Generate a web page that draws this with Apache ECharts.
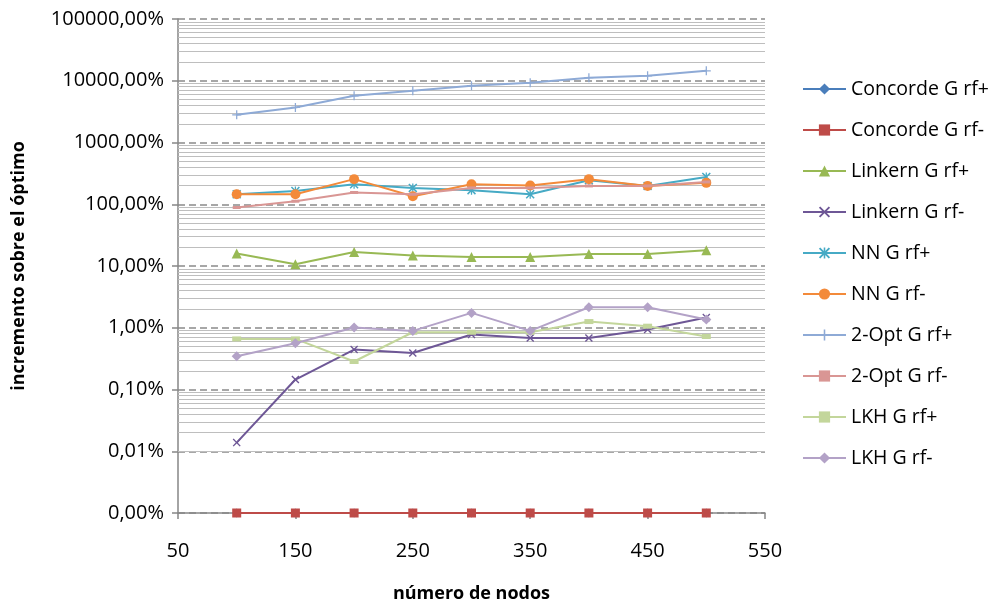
<!DOCTYPE html>
<html>
<head>
<meta charset="utf-8">
<script src="https://cdn.jsdelivr.net/npm/echarts@6/dist/echarts.min.js"></script>
<style>
html,body{margin:0;padding:0;background:#fff;}
#chart{width:990px;height:606px;}
</style>
</head>
<body>
<div id="chart"></div>
<script>
// ---- data (values in percent) ----
const nodes = [100, 150, 200, 250, 300, 350, 400, 450, 500];
const seriesNames = ['Concorde G rf+', 'Concorde G rf-', 'Linkern G rf+', 'Linkern G rf-', 'NN G rf+', 'NN G rf-', '2-Opt G rf+', '2-Opt G rf-', 'LKH G rf+', 'LKH G rf-'];
const concordeRfPlus  = [0, 0, 0, 0, 0, 0, 0, 0, 0];
const concordeRfMinus = [0, 0, 0, 0, 0, 0, 0, 0, 0];
const linkernRfPlus   = [15.9, 10.7, 16.9, 14.8, 14.0, 14.0, 15.7, 15.7, 18.0];
const linkernRfMinus  = [0.0138, 0.145, 0.444, 0.391, 0.776, 0.684, 0.684, 0.935, 1.46];
const nnRfPlus        = [145, 164, 211, 184, 169, 145, 245, 198, 277];
const nnRfMinus       = [145, 145, 255, 135, 211, 201, 255, 198, 222];
const twoOptRfPlus    = [2810, 3700, 5700, 6900, 8300, 9300, 11200, 12000, 14500];
const twoOptRfMinus   = [88.5, 112, 155, 145, 184, 184, 198, 198, 230];
const lkhRfPlus       = [0.659, 0.659, 0.284, 0.845, 0.845, 0.845, 1.26, 1.06, 0.721];
const lkhRfMinus      = [0.346, 0.561, 1.01, 0.889, 1.74, 0.889, 2.15, 2.15, 1.36];
const xTicks = [50, 150, 250, 350, 450, 550];
const yMin = 0.001, yMax = 100000;

// ---- styling ----
const FONT = '"Open Sans", sans-serif';
const X_PATH = 'path://M0,1.2 L1.2,0 L5,3.8 L8.8,0 L10,1.2 L6.2,5 L10,8.8 L8.8,10 L5,6.2 L1.2,10 L0,8.8 L3.8,5 Z';
const PLUS_PATH = 'path://M4.3,0 H5.7 V4.3 H10 V5.7 H5.7 V10 H4.3 V5.7 H0 V4.3 H4.3 Z';
const STAR_PATH = 'path://M0,1.2 L1.2,0 L5,3.8 L8.8,0 L10,1.2 L6.2,5 L10,8.8 L8.8,10 L5,6.2 L1.2,10 L0,8.8 L3.8,5 Z M4.3,0 H5.7 V10 H4.3 Z';

const styles = [
  {color: '#4A7EBB', symbol: 'diamond', size: 9},
  {color: '#BE4B48', symbol: 'rect', size: 9},
  {color: '#98B954', symbol: 'triangle', size: 10},
  {color: '#6E5796', symbol: X_PATH, size: 8},
  {color: '#46AAC5', symbol: STAR_PATH, size: 9},
  {color: '#F38A3A', symbol: 'circle', size: 10},
  {color: '#8EAAD6', symbol: PLUS_PATH, size: 9},
  {color: '#D99694', symbol: 'rect', size: [8, 3]},
  {color: '#C3D69B', symbol: 'rect', size: [9, 5]},
  {color: '#B3A2C7', symbol: 'diamond', size: 10}
];
const seriesValues = [concordeRfPlus, concordeRfMinus, linkernRfPlus, linkernRfMinus, nnRfPlus, nnRfMinus, twoOptRfPlus, twoOptRfMinus, lkhRfPlus, lkhRfMinus];

// minor gridlines at 2..9 x 10^k
const minorGrid = [];
for (let k = -3; k <= 4; k++) {
  for (let m = 2; m <= 9; m++) minorGrid.push(+(m * Math.pow(10, k)).toPrecision(3));
}

const fmtPct = v => v.toFixed(2).replace('.', ',') + '%';

const series = seriesValues.map((vals, i) => {
  const s = {
    name: seriesNames[i],
    type: 'line',
    data: vals.map((v, j) => [nodes[j], v <= 0 ? yMin : v]),
    symbol: styles[i].symbol,
    symbolSize: styles[i].size,
    showSymbol: true,
    lineStyle: {color: styles[i].color, width: 2},
    itemStyle: {color: styles[i].color},
    emphasis: {disabled: true},
    clip: false,
    z: 3 + i
  };
  if (i === 0) {
    s.markLine = {
      silent: true,
      symbol: 'none',
      label: {show: false},
      lineStyle: {color: '#BEBEBE', type: 'solid', width: 1.2},
      z: 1,
      data: minorGrid.map(v => ({yAxis: v}))
    };
  }
  return s;
});

const chart = echarts.init(document.getElementById('chart'), null, {renderer: 'canvas'});
chart.setOption({
  animation: false,
  backgroundColor: '#ffffff',
  textStyle: {fontFamily: FONT},
  grid: {left: 178, right: 225, top: 19, bottom: 93, containLabel: false, outerBoundsMode: 'none'},
  legend: {
    orient: 'vertical',
    left: 797,
    top: 74,
    itemWidth: 43,
    itemHeight: 14,
    itemGap: 21,
    data: seriesNames,
    textStyle: {fontFamily: FONT, fontSize: 19.5, color: '#000', lineHeight: 20}
  },
  xAxis: {
    type: 'value',
    min: 50,
    max: 550,
    interval: 100,
    name: 'número de nodos',
    nameLocation: 'middle',
    nameGap: 72,
    nameTextStyle: {fontFamily: FONT, fontSize: 18, fontWeight: 'bold', color: '#000'},
    axisLine: {show: true, onZero: false, lineStyle: {color: '#868686', width: 1.5}},
    axisTick: {show: true, inside: false, length: 6, lineStyle: {color: '#868686', width: 1.5}},
    axisLabel: {fontFamily: FONT, fontSize: 20, color: '#000', margin: 28,
      formatter: v => (xTicks.indexOf(v) >= 0 ? String(v) : '')},
    splitLine: {show: false}
  },
  yAxis: {
    type: 'log',
    logBase: 10,
    min: yMin,
    max: yMax,
    splitNumber: 8,
    name: 'incremento sobre el óptimo',
    nameLocation: 'middle',
    nameGap: 150,
    nameRotate: 90,
    nameTextStyle: {fontFamily: FONT, fontSize: 18, fontWeight: 'bold', color: '#000'},
    axisLine: {show: true, lineStyle: {color: '#868686', width: 1.5}},
    axisTick: {show: true, inside: false, length: 6, lineStyle: {color: '#868686', width: 1.5}},
    axisLabel: {fontFamily: FONT, fontSize: 20, color: '#000', margin: 14, formatter: fmtPct},
    splitLine: {show: true, lineStyle: {color: '#8A8A8A', type: [7, 4], width: 1.5}}
  },
  series: series
});
</script>
</body>
</html>
